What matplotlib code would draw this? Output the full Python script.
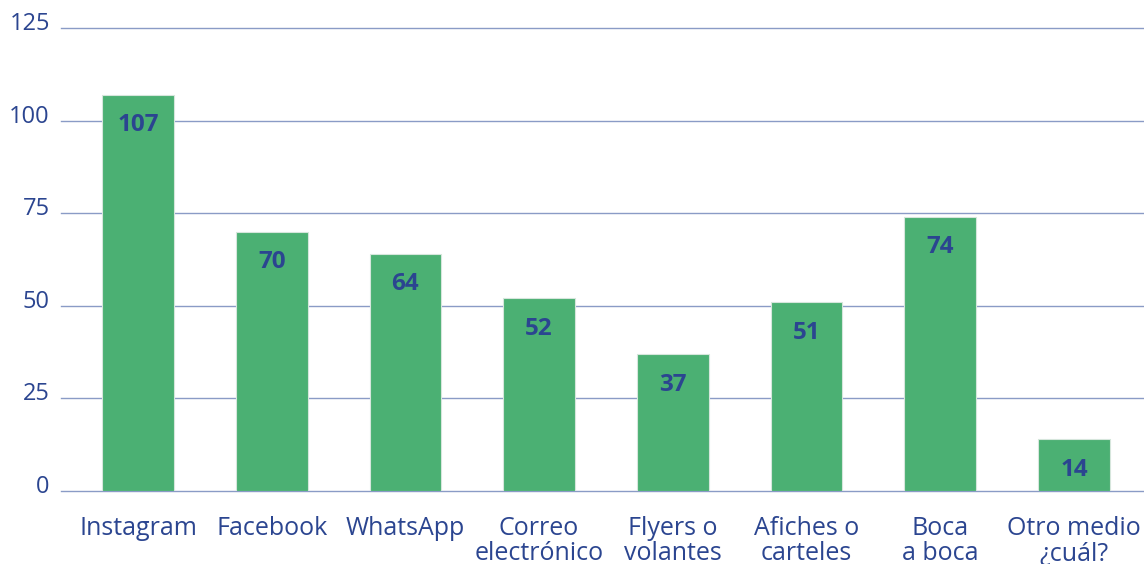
import matplotlib.pyplot as plt
from matplotlib.transforms import ScaledTranslation

categories = ['Instagram', 'Facebook', 'WhatsApp', 'Correo\nelectrónico',
              'Flyers o\nvolantes', 'Afiches o\ncarteles', 'Boca\na boca',
              'Otro medio\n¿cuál?']
values = [107, 70, 64, 52, 37, 51, 74, 14]
y_ticks = [0, 25, 50, 75, 100, 125]

GREEN = '#4bb073'
NAVY = '#2b4590'
GRID = '#8a9bc6'


def main():
    plt.rcParams['font.family'] = ['Open Sans', 'DejaVu Sans']
    fig = plt.figure(figsize=(11.44, 5.64), dpi=100)
    ax = fig.add_axes([0.0533, 0.1294, 0.9467, 0.821])

    x = list(range(len(categories)))
    ax.set_axisbelow(True)
    ax.yaxis.grid(True, color=GRID, linewidth=1)
    for gl in ax.get_ygridlines():
        gl.set_clip_on(False)
    bars = ax.bar(x, values, width=0.537, color=GREEN, edgecolor='#d6e6dc', linewidth=0.8, zorder=2)

    for rect, v in zip(bars, values):
        ax.annotate(str(v), (rect.get_x() + rect.get_width() / 2, rect.get_height()),
                    xytext=(0, -22), textcoords='offset points', ha='center', va='center',
                    fontsize=17.5, fontweight='bold', color=NAVY, zorder=3)

    ax.set_xlim(-0.576, 7.524)
    ax.set_ylim(0, 125)
    ax.set_yticks(y_ticks)
    ax.set_xticks(x)
    ax.set_xticklabels(categories, linespacing=1.0)
    ax.tick_params(axis='both', length=0, labelcolor=NAVY)
    ax.tick_params(axis='x', pad=18, labelsize=18)
    ax.tick_params(axis='y', pad=8, labelsize=17)
    shift = ScaledTranslation(0, 0.07, fig.dpi_scale_trans)
    for lbl in ax.get_yticklabels():
        lbl.set_transform(lbl.get_transform() + shift)
    for s in ax.spines.values():
        s.set_visible(False)

    fig.savefig('out.png', dpi=100)


if __name__ == '__main__':
    main()
